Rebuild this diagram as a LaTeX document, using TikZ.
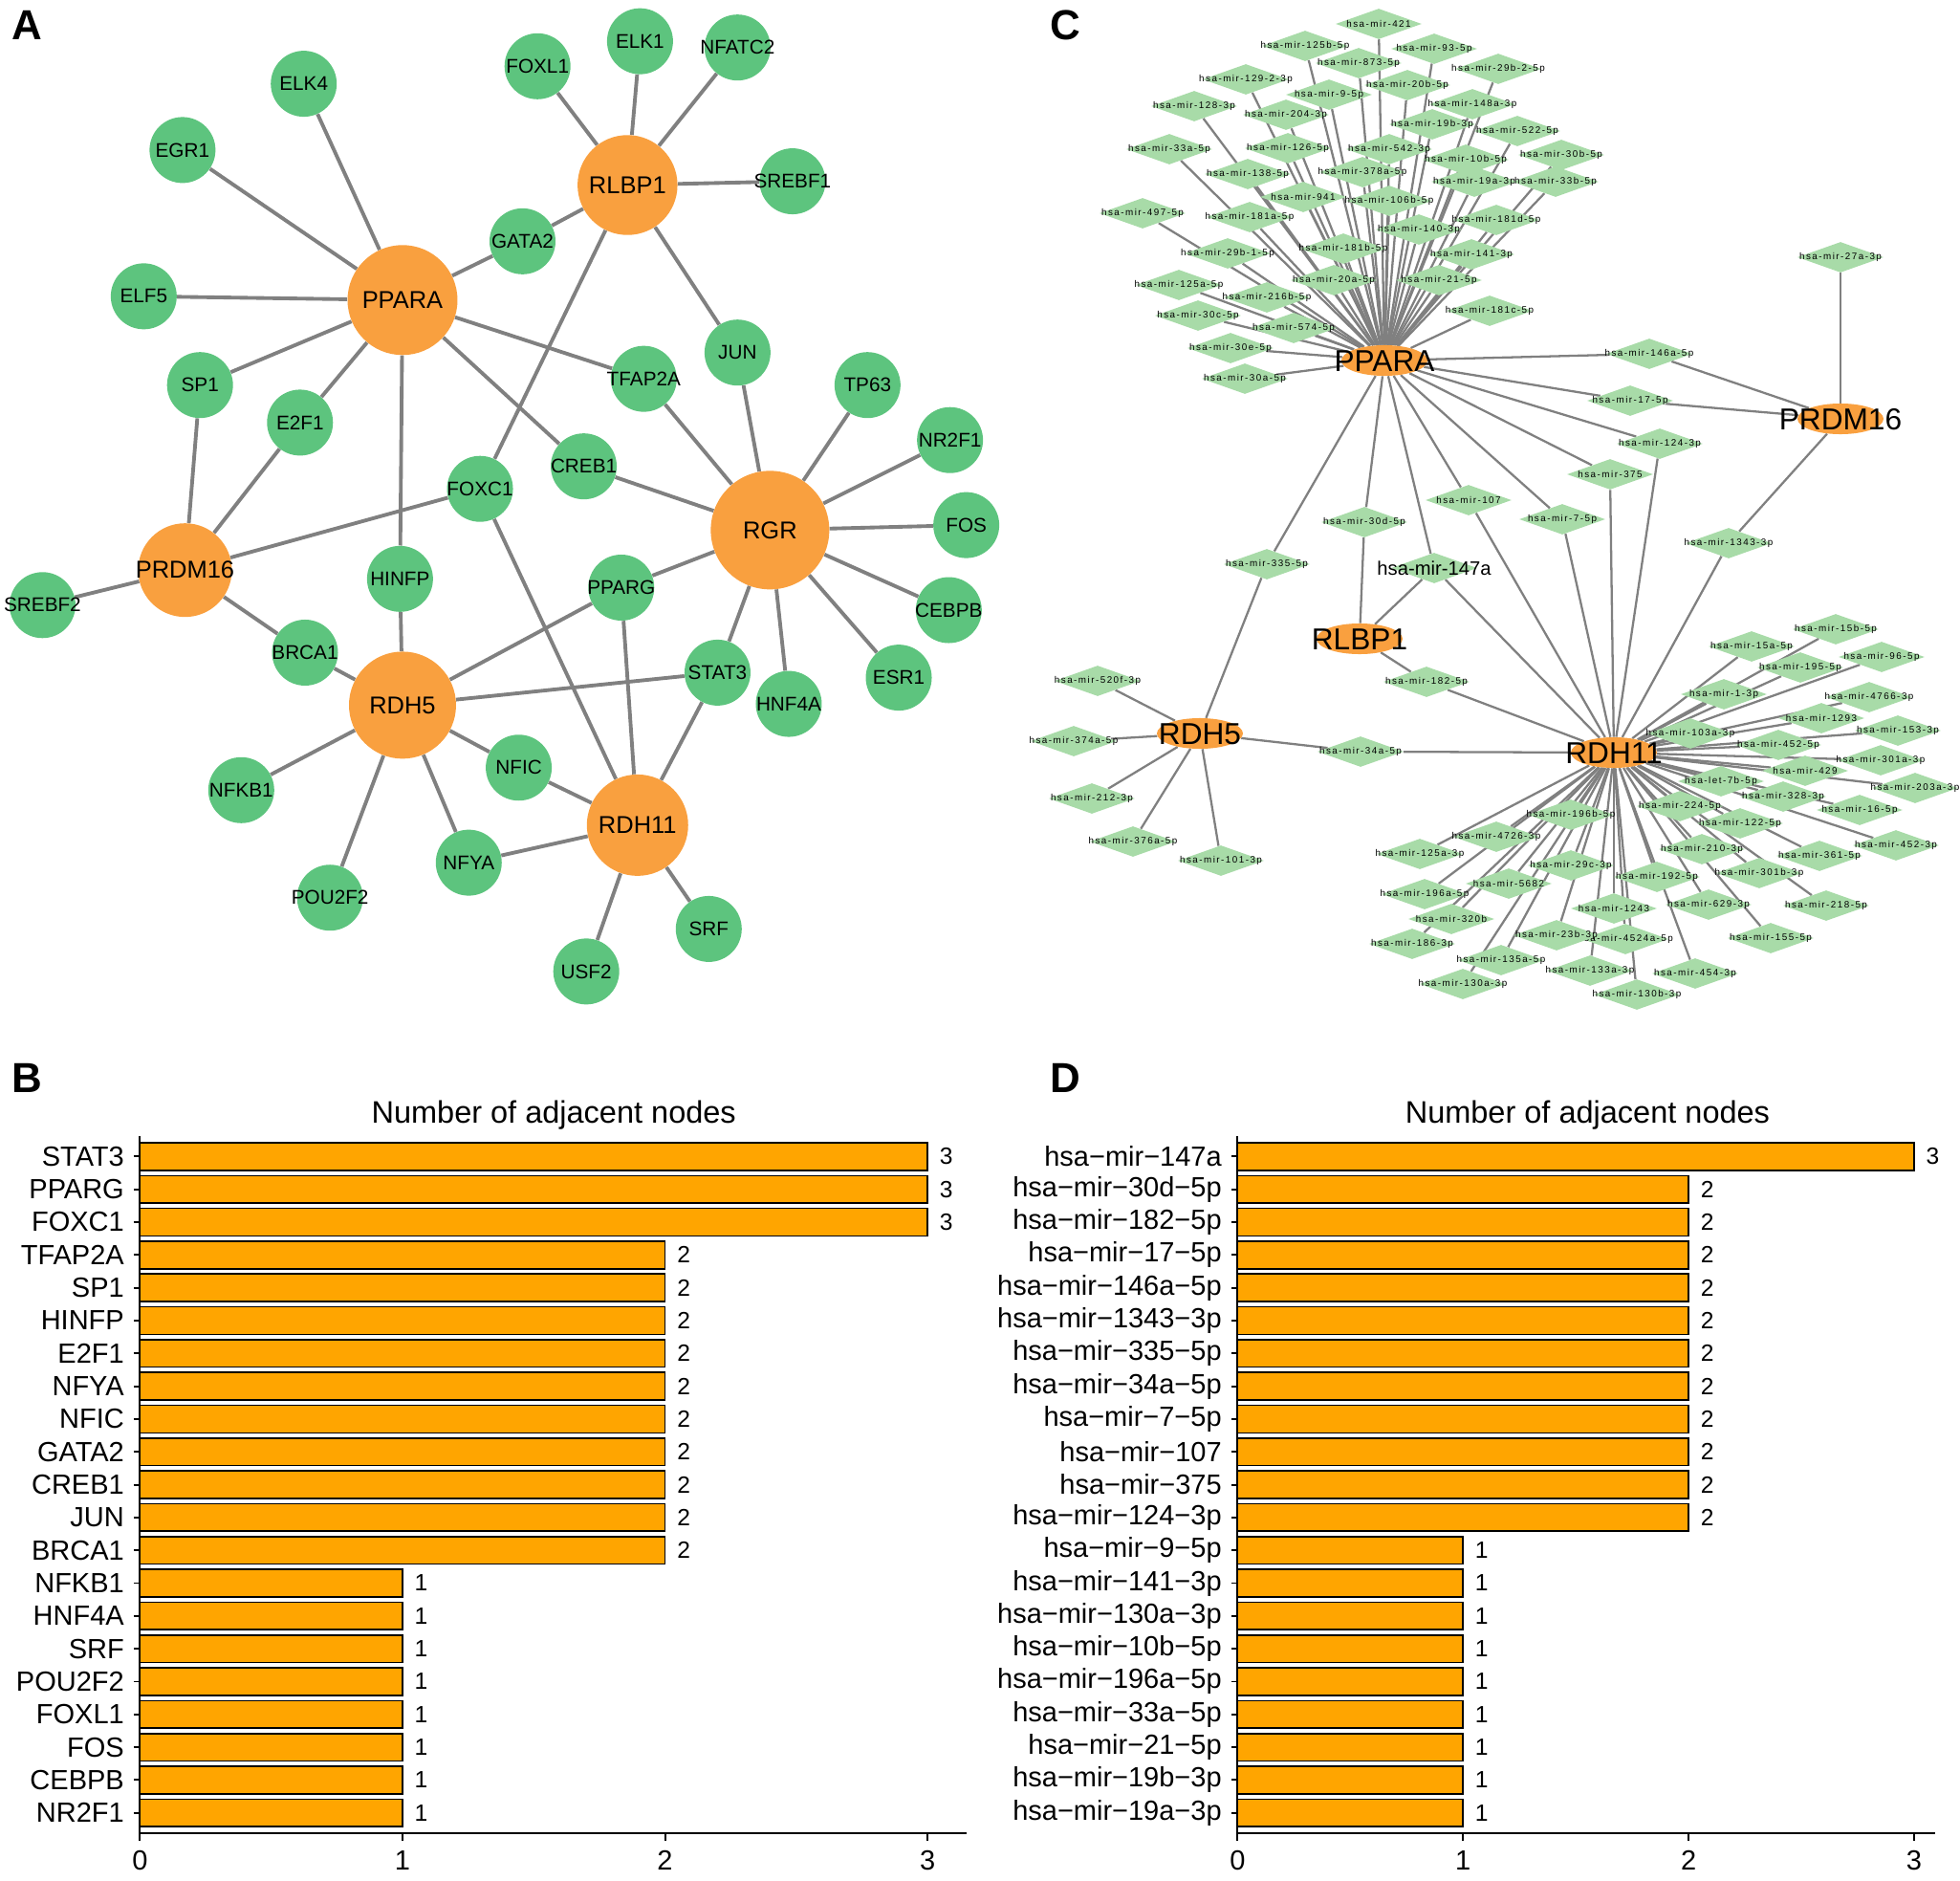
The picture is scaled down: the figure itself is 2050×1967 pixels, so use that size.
\documentclass[tikz,border=0pt]{standalone}
\usepackage{fontspec}
\setmainfont{Liberation Sans}
\newfontfamily\mirfont[LetterSpace=15]{Liberation Sans}
\usetikzlibrary{shapes.geometric,backgrounds}

\definecolor{hubor}{HTML}{F9A03F}
\definecolor{tfgreen}{HTML}{5DC47E}
\definecolor{mirgreen}{HTML}{A8DBA8}
\definecolor{edgegray}{HTML}{808080}
\definecolor{barorange}{HTML}{FFA500}

\begin{document}
\begin{tikzpicture}[x=0.02cm, y=-0.02cm,
    nowidth/.style={execute at begin node={\hbox to 0pt\bgroup\hss},
        execute at end node={\hss\egroup}},
    hubA/.style={circle, fill=hubor, minimum size=#1, inner sep=0pt,
        nowidth, font=\fontsize{14.5}{16}\selectfont},
    tfA/.style={circle, fill=tfgreen, minimum size=1.38cm, inner sep=0pt,
        nowidth, font=\fontsize{11.8}{13}\selectfont},
    linkA/.style={draw=edgegray, line width=2.2pt},
    hubC/.style={ellipse, fill=hubor, minimum width=1.8cm, minimum height=0.64cm,
        inner sep=0pt, nowidth, text height=12.9pt, text depth=0pt,
        font=\fontsize{18}{20}\selectfont},
    mirC/.style={diamond, fill=mirgreen, minimum width=1.8cm, minimum height=0.64cm,
        inner sep=0pt, nowidth, font=\mirfont\fontsize{5.6}{6}\selectfont},
    linkC/.style={draw=edgegray, line width=1.3pt},
    bar/.style={draw=black, fill=barorange, line width=0.9pt},
    axis/.style={line width=1.1pt},
    panel/.style={font=\bfseries\fontsize{25}{28}\selectfont},
    ylab/.style={anchor=east, font=\fontsize{16.5}{18}\selectfont},
    vlab/.style={anchor=west, font=\fontsize{14}{16}\selectfont},
    tick/.style={font=\fontsize{16.5}{18}\selectfont},
    ttl/.style={font=\fontsize{18.5}{20}\selectfont}
  ]
  \useasboundingbox (0,0) rectangle (2050,1967);

  % panels A, B, D in screen units
  \begin{scope}[x=0.026148cm, y=-0.026148cm]
    \node[panel] (pa) at (22,20) {A};
    \node[panel] (pb) at (22,862) {B};
    \node[panel] (pc) at (852,20) {C};
    \node[panel] (pd) at (852,862) {D};

    % panel A
    \node[hubA=2.30cm] (ppara) at (322,240) {PPARA};
    \node[hubA=2.09cm] (rlbp1) at (502,148) {RLBP1};
    \node[hubA=2.48cm] (rgr) at (616,424) {RGR};
    \node[hubA=1.96cm] (prdm16) at (148,456) {PRDM16};
    \node[hubA=2.24cm] (rdh5) at (322,564) {RDH5};
    \node[hubA=2.12cm] (rdh11) at (510,660) {RDH11};

    \node[tfA] (elk4) at (243,67) {ELK4};
    \node[tfA] (egr1) at (146,120) {EGR1};
    \node[tfA] (elf5) at (115,237) {ELF5};
    \node[tfA] (sp1) at (160,308) {SP1};
    \node[tfA] (e2f1) at (240,338) {E2F1};
    \node[tfA] (gata2) at (418,193) {GATA2};
    \node[tfA] (foxl1) at (430,53) {FOXL1};
    \node[tfA] (elk1) at (512,33) {ELK1};
    \node[tfA] (nfatc2) at (590,38) {NFATC2};
    \node[tfA] (srebf1) at (634,145) {SREBF1};
    \node[tfA] (jun) at (590,282) {JUN};
    \node[tfA] (tfap2a) at (515,303) {TFAP2A};
    \node[tfA] (tp63) at (694,308) {TP63};
    \node[tfA] (nr2f1) at (760,352) {NR2F1};
    \node[tfA] (fos) at (773,420) {FOS};
    \node[tfA] (cebpb) at (759,488) {CEBPB};
    \node[tfA] (esr1) at (719,542) {ESR1};
    \node[tfA] (hnf4a) at (631,563) {HNF4A};
    \node[tfA] (stat3) at (574,538) {STAT3};
    \node[tfA] (pparg) at (497,470) {PPARG};
    \node[tfA] (creb1) at (467,373) {CREB1};
    \node[tfA] (foxc1) at (384,391) {FOXC1};
    \node[tfA] (hinfp) at (320,463) {HINFP};
    \node[tfA] (brca1) at (244,522) {BRCA1};
    \node[tfA] (srebf2) at (34,484) {SREBF2};
    \node[tfA] (nfkb1) at (193,632) {NFKB1};
    \node[tfA] (nfic) at (415,614) {NFIC};
    \node[tfA] (nfya) at (375,690) {NFYA};
    \node[tfA] (pou2f2) at (264,718) {POU2F2};
    \node[tfA] (srf) at (567,743) {SRF};
    \node[tfA] (usf2) at (469,777) {USF2};

    \begin{scope}[on background layer]
      \foreach \a/\b in {ppara/elk4, ppara/egr1, ppara/elf5, ppara/sp1, ppara/e2f1,
          ppara/gata2, ppara/tfap2a, ppara/creb1, ppara/hinfp,
          rlbp1/foxl1, rlbp1/elk1, rlbp1/nfatc2, rlbp1/srebf1, rlbp1/gata2,
          rlbp1/jun, rlbp1/foxc1,
          prdm16/sp1, prdm16/e2f1, prdm16/foxc1, prdm16/srebf2, prdm16/brca1,
          rgr/jun, rgr/tfap2a, rgr/creb1, rgr/tp63, rgr/nr2f1, rgr/fos, rgr/cebpb,
          rgr/esr1, rgr/hnf4a, rgr/stat3, rgr/pparg,
          rdh5/brca1, rdh5/hinfp, rdh5/pparg, rdh5/stat3, rdh5/nfkb1, rdh5/nfic,
          rdh5/nfya, rdh5/pou2f2,
          rdh11/foxc1, rdh11/pparg, rdh11/stat3, rdh11/nfic, rdh11/nfya,
          rdh11/usf2, rdh11/srf}
        \draw[linkA] (\a) -- (\b);
    \end{scope}

    % panel B
    \node[ttl] (ttlb) at (443,892) {Number of adjacent nodes};
    \foreach \g/\v [count=\i from 0] in {STAT3/3, PPARG/3, FOXC1/3, TFAP2A/2, SP1/2,
        HINFP/2, E2F1/2, NFYA/2, NFIC/2, GATA2/2, CREB1/2, JUN/2, BRCA1/2, NFKB1/1,
        HNF4A/1, SRF/1, POU2F2/1, FOXL1/1, FOS/1, CEBPB/1, NR2F1/1}{
      \draw[bar] (112,{914+\i*26.25}) rectangle ({112+\v*210},{936+\i*26.25});
      \draw[axis] (107,{925+\i*26.25}) -- (112,{925+\i*26.25});
      \node[ylab] (gb\i) at (104,{925+\i*26.25}) {\g};
      \node[vlab] (vb\i) at ({112+\v*210+5},{925+\i*26.25}) {\v};
    }
    \draw[axis] (112,909) -- (112,1466) -- (773,1466);
    \foreach \k in {0,...,3}{
      \draw[axis] ({112+\k*210},1466) -- ++(0,6);
      \node[tick] (tb\k) at ({112+\k*210},1488) {\k};
    }

    % panel D
    \node[ttl] (ttld) at (1270,892) {Number of adjacent nodes};
    \foreach \g/\v [count=\i from 0] in {147a/3, 30d−5p/2, 182−5p/2, 17−5p/2,
        146a−5p/2, 1343−3p/2, 335−5p/2, 34a−5p/2, 7−5p/2, 107/2, 375/2, 124−3p/2,
        9−5p/1, 141−3p/1, 130a−3p/1, 10b−5p/1, 196a−5p/1, 33a−5p/1, 21−5p/1,
        19b−3p/1, 19a−3p/1}{
      \draw[bar] (990,{914+\i*26.25}) rectangle ({990+\v*180.4},{936+\i*26.25});
      \draw[axis] (985,{925+\i*26.25}) -- (990,{925+\i*26.25});
      \node[ylab] (gd\i) at (982,{925+\i*26.25}) {hsa−mir−\g};
      \node[vlab] (vd\i) at ({990+\v*180.4+5},{925+\i*26.25}) {\v};
    }
    \draw[axis] (990,909) -- (990,1466) -- (1548,1466);
    \foreach \k in {0,...,3}{
      \draw[axis] ({990+\k*180.4},1466) -- ++(0,6);
      \node[tick] (td\k) at ({990+\k*180.4},1488) {\k};
    }
  \end{scope}

  % panel C
  \node[hubC] (cppara) at (1448,377) {PPARA};
  \node[hubC] (cprdm16) at (1925,438) {PRDM16};
  \node[hubC] (crlbp1) at (1422,668) {RLBP1};
  \node[hubC] (crdh5) at (1255,767) {RDH5};
  \node[hubC] (crdh11) at (1688,787) {RDH11};

  \foreach \x/\y/\t in {1442/25/421, 1365/48/125b-5p, 1421/66/873-5p, 1500/51/93-5p,
      1303/83/129-2-3p, 1390/99/9-5p, 1472/89/20b-5p, 1567/72/29b-2-5p,
      1249/111/128-3p, 1345/120/204-3p, 1540/109/148a-3p, 1498/130/19b-3p,
      1587/137/522-5p, 1223/156/33a-5p, 1347/155/126-5p, 1453/156/542-3p,
      1533/167/10b-5p, 1633/162/30b-5p, 1305/182/138-5p, 1425/180/378a-5p,
      1542/190/19a-3p, 1627/190/33b-5p, 1363/206/941, 1453/210/106b-5p,
      1195/223/497-5p, 1307/227/181a-5p, 1484/240/140-3p, 1565/230/181d-5p,
      1284/265/29b-1-5p, 1405/260/181b-5p, 1539/266/141-3p, 1233/298/125a-5p,
      1395/293/20a-5p, 1325/311/216b-5p, 1505/293/21-5p, 1558/325/181c-5p,
      1253/330/30c-5p, 1353/343/574-5p, 1287/364/30e-5p, 1302/396/30a-5p,
      1725/370/146a-5p, 1705/419/17-5p, 1736/464/124-3p, 1684/496/375,
      1634/543/7-5p, 1536/523/107, 1427/546/30d-5p, 1325/590/335-5p,
      1492/713/182-5p, 1423/786/34a-5p, 1808/568/1343-3p, 1925/269/27a-3p,
      1148/712/520f-3p, 1123/775/374a-5p, 1142/835/212-3p, 1185/880/376a-5p,
      1277/900/101-3p,
      1920/658/15b-5p, 1832/676/15a-5p, 1968/687/96-5p, 1883/698/195-5p,
      1803/726/1-3p, 1955/729/4766-3p, 1905/751/1293, 1985/764/153-3p,
      1768/767/103a-3p, 1860/779/452-5p, 1967/795/301a-3p, 1888/806/429,
      2003/824/203a-3p, 1865/833/328-3p, 1945/847/16-5p,
      1757/843/224-5p, 1820/861/122-5p, 1983/884/452-3p, 1780/888/210-3p,
      1903/895/361-5p, 1840/913/301b-3p, 1733/917/192-5p, 1787/946/629-3p,
      1910/947/218-5p, 1852/981/155-5p, 1700/982/4524a-5p, 1773/1018/454-3p,
      1712/1040/130b-3p, 1643/852/196b-5p, 1565/875/4726-3p, 1485/893/125a-3p,
      1643/905/29c-3p, 1578/924/5682, 1490/935/196a-5p, 1688/950/1243,
      1518/961/320b, 1477/987/186-3p, 1628/978/23b-3p, 1570/1004/135a-5p,
      1663/1015/133a-3p, 1530/1029/130a-3p}
    \node[mirC] (m\t) at (\x,\y) {hsa-mir-\t};
  \node[mirC] (mlet-7b-5p) at (1800,817) {hsa-let-7b-5p};
  \node[mirC, font=\fontsize{11.5}{13}\selectfont] (m147a) at (1500,594) {hsa-mir-147a};

  \begin{scope}[on background layer]
    \foreach \t in {421, 125b-5p, 873-5p, 93-5p, 129-2-3p, 9-5p, 20b-5p, 29b-2-5p,
        128-3p, 204-3p, 148a-3p, 19b-3p, 522-5p, 33a-5p, 126-5p, 542-3p, 10b-5p,
        30b-5p, 138-5p, 378a-5p, 19a-3p, 33b-5p, 941, 106b-5p, 497-5p, 181a-5p,
        140-3p, 181d-5p, 29b-1-5p, 181b-5p, 141-3p, 125a-5p, 20a-5p, 216b-5p,
        21-5p, 181c-5p, 30c-5p, 574-5p, 30e-5p, 30a-5p, 146a-5p, 17-5p, 124-3p,
        375, 7-5p, 107, 147a, 30d-5p, 335-5p}
      \draw[linkC] (m\t) -- (cppara);
    \foreach \t in {146a-5p, 17-5p, 27a-3p, 1343-3p}
      \draw[linkC] (m\t) -- (cprdm16);
    \foreach \t in {30d-5p, 147a, 182-5p}
      \draw[linkC] (m\t) -- (crlbp1);
    \foreach \t in {520f-3p, 374a-5p, 212-3p, 376a-5p, 101-3p, 335-5p, 34a-5p}
      \draw[linkC] (m\t) -- (crdh5);
    \foreach \t in {34a-5p, 182-5p, 147a, 107, 7-5p, 375, 124-3p, 1343-3p,
        15b-5p, 15a-5p, 96-5p, 195-5p, 1-3p, 4766-3p, 1293, 153-3p, 103a-3p,
        452-5p, 301a-3p, 429, let-7b-5p, 203a-3p, 328-3p, 16-5p, 224-5p, 122-5p,
        452-3p, 210-3p, 361-5p, 301b-3p, 192-5p, 629-3p, 218-5p, 155-5p,
        4524a-5p, 454-3p, 130b-3p, 196b-5p, 4726-3p, 125a-3p, 29c-3p, 5682,
        196a-5p, 1243, 320b, 186-3p, 23b-3p, 135a-5p, 133a-3p, 130a-3p}
      \draw[linkC] (m\t) -- (crdh11);
  \end{scope}
\end{tikzpicture}
\end{document}
